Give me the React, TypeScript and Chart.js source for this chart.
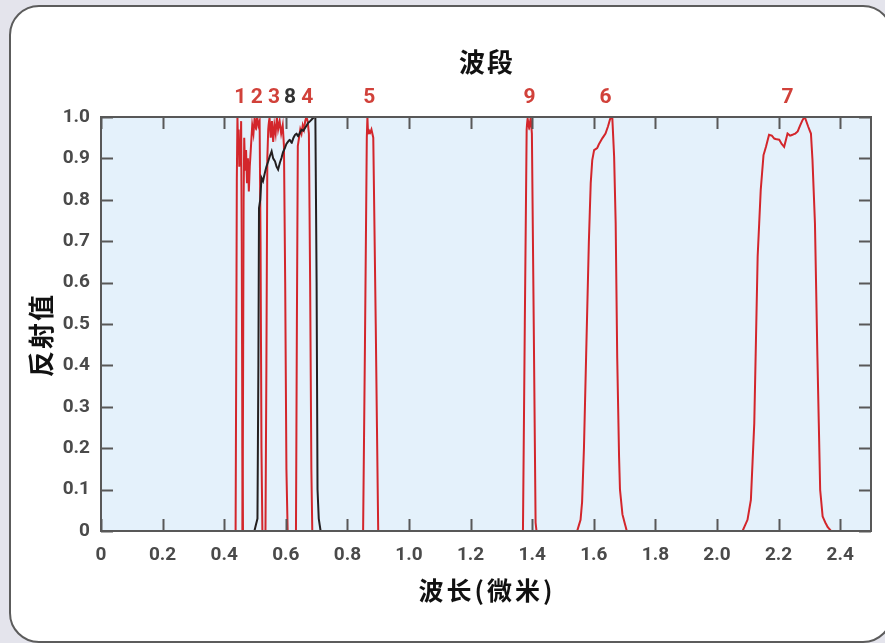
import React, { useEffect, useRef } from 'react';
import { Chart, registerables } from 'chart.js';

Chart.register(...registerables);

// Spectral response curves: [wavelength (µm), reflectance]
const band1: number[][] = [
  [0.437, 0], [0.439, 0.4], [0.441, 0.85], [0.443, 1.0], [0.445, 0.93], [0.447, 0.97],
  [0.449, 0.88], [0.451, 0.94], [0.453, 0.9], [0.455, 0.99], [0.457, 0.7], [0.459, 0.2], [0.461, 0],
];
const band2: number[][] = [
  [0.459, 0], [0.461, 0.3], [0.463, 0.8], [0.465, 0.95], [0.468, 0.87], [0.471, 0.92],
  [0.474, 0.84], [0.477, 0.9], [0.480, 0.82], [0.483, 0.88], [0.487, 0.93], [0.491, 0.98],
  [0.495, 0.96], [0.499, 1.0], [0.503, 0.97], [0.507, 1.0], [0.511, 0.98], [0.515, 0.99],
  [0.518, 0.7], [0.521, 0.2], [0.524, 0],
];
const band3: number[][] = [
  [0.534, 0], [0.537, 0.4], [0.540, 0.9], [0.543, 0.97], [0.547, 1.0], [0.551, 0.95],
  [0.555, 0.99], [0.559, 0.94], [0.563, 0.98], [0.567, 0.96], [0.571, 1.0], [0.575, 0.97],
  [0.580, 0.99], [0.585, 0.96], [0.590, 0.98], [0.594, 0.93], [0.598, 0.6], [0.602, 0.15], [0.606, 0],
];
const band4: number[][] = [
  [0.633, 0], [0.636, 0.5], [0.639, 0.93], [0.643, 0.95], [0.647, 0.97], [0.651, 0.96],
  [0.655, 0.98], [0.659, 0.97], [0.663, 0.99], [0.667, 1.0], [0.671, 0.99], [0.675, 0.96],
  [0.679, 0.6], [0.683, 0.15], [0.686, 0],
];
const band8: number[][] = [
  [0.498, 0], [0.503, 0.015], [0.508, 0.03], [0.511, 0.4], [0.513, 0.78], [0.517, 0.80],
  [0.521, 0.853], [0.526, 0.845], [0.532, 0.865], [0.537, 0.88], [0.543, 0.893], [0.548, 0.905],
  [0.554, 0.917], [0.559, 0.90], [0.565, 0.893], [0.570, 0.88], [0.575, 0.873], [0.581, 0.89],
  [0.586, 0.901], [0.591, 0.915], [0.597, 0.925], [0.602, 0.935], [0.608, 0.941], [0.613, 0.945],
  [0.619, 0.937], [0.625, 0.95], [0.630, 0.957], [0.635, 0.96], [0.640, 0.953], [0.646, 0.962],
  [0.651, 0.969], [0.657, 0.967], [0.662, 0.973], [0.668, 0.98], [0.673, 0.986], [0.679, 0.99],
  [0.684, 0.994], [0.692, 1.0], [0.696, 1.0], [0.700, 0.6], [0.703, 0.1], [0.707, 0.03], [0.713, 0],
];
const band5: number[][] = [
  [0.851, 0], [0.857, 0.45], [0.863, 0.95], [0.865, 1.0], [0.867, 0.96], [0.869, 0.97],
  [0.873, 0.96], [0.878, 0.97], [0.884, 0.95], [0.892, 0.5], [0.900, 0],
];
const band9: number[][] = [
  [1.370, 0], [1.376, 0.5], [1.382, 0.97], [1.385, 1.0], [1.390, 0.97], [1.395, 1.0],
  [1.399, 0.96], [1.405, 0.5], [1.411, 0.02], [1.414, 0],
];
const band6: number[][] = [
  [1.546, 0], [1.557, 0.027], [1.562, 0.07], [1.568, 0.2], [1.575, 0.42], [1.584, 0.7],
  [1.590, 0.84], [1.595, 0.896], [1.601, 0.92], [1.611, 0.925], [1.617, 0.935], [1.628, 0.949],
  [1.638, 0.96], [1.646, 0.977], [1.653, 0.995], [1.658, 1.0], [1.660, 1.0], [1.666, 0.904],
  [1.671, 0.744], [1.676, 0.42], [1.682, 0.18], [1.685, 0.1], [1.693, 0.04], [1.700, 0.02], [1.707, 0],
];
const band7: number[][] = [
  [2.083, 0], [2.099, 0.027], [2.110, 0.075], [2.121, 0.26], [2.132, 0.663], [2.142, 0.824],
  [2.151, 0.908], [2.159, 0.928], [2.169, 0.957], [2.178, 0.955], [2.186, 0.948], [2.194, 0.946],
  [2.202, 0.945], [2.210, 0.935], [2.218, 0.928], [2.229, 0.96], [2.237, 0.955], [2.245, 0.957],
  [2.254, 0.96], [2.262, 0.965], [2.270, 0.98], [2.278, 0.993], [2.285, 1.0], [2.296, 0.977],
  [2.305, 0.96], [2.310, 0.896], [2.318, 0.744], [2.326, 0.421], [2.335, 0.099], [2.343, 0.035],
  [2.352, 0.02], [2.359, 0.01], [2.370, 0],
];

const xTicks = [0, 0.2, 0.4, 0.6, 0.8, 1.0, 1.2, 1.4, 1.6, 1.8, 2.0, 2.2, 2.4];
const yTicks = [0, 0.1, 0.2, 0.3, 0.4, 0.5, 0.6, 0.7, 0.8, 0.9, 1.0];

const bandLabels = ['1', '2', '3', '8', '4', '5', '9', '6', '7'];
const bandLabelPos = [0.452, 0.506, 0.562, 0.614, 0.670, 0.871, 1.391, 1.638, 2.229];

const topTitle = '波段';
const xTitle = '波长(微米)';
const yTitle = '反射值';

const RED = '#d3262b';
const DARK = '#231f20';
const AXIS = '#585858';
const LABEL_RED = '#d1413a';
const NUM_FONT = 'Roboto, "Liberation Sans", sans-serif';
const CJK_FONT = '"Noto Sans CJK SC", "Noto Sans", sans-serif';

const fmt = (v: number) => (Math.abs(v) < 1e-9 ? '0' : v.toFixed(1));

const decorPlugin = {
  id: 'decor',
  beforeDatasetsDraw(chart: any) {
    const { ctx, chartArea: a } = chart;
    ctx.save();
    ctx.fillStyle = '#e4f1fb';
    ctx.fillRect(a.left, a.top, a.right - a.left, a.bottom - a.top);
    ctx.restore();
  },
  afterDatasetsDraw(chart: any) {
    const { ctx, chartArea: a, scales } = chart;
    const xs = scales.x;
    const ys = scales.y;
    ctx.save();
    // inward ticks
    ctx.strokeStyle = AXIS;
    ctx.lineWidth = 2;
    const tl = 12;
    ctx.beginPath();
    xTicks.forEach((v) => {
      const px = Math.round(xs.getPixelForValue(v)) + 0.5;
      ctx.moveTo(px, a.bottom);
      ctx.lineTo(px, a.bottom - tl);
      ctx.moveTo(px, a.top);
      ctx.lineTo(px, a.top + tl);
    });
    yTicks.forEach((v) => {
      const py = Math.round(ys.getPixelForValue(v)) + 0.5;
      ctx.moveTo(a.left, py);
      ctx.lineTo(a.left + tl, py);
      ctx.moveTo(a.right, py);
      ctx.lineTo(a.right - tl, py);
    });
    ctx.stroke();
    // frame
    ctx.strokeRect(a.left, a.top, a.right - a.left, a.bottom - a.top);

    // band labels
    ctx.font = `bold 21px ${NUM_FONT}`;
    ctx.textAlign = 'center';
    ctx.textBaseline = 'middle';
    bandLabels.forEach((t, i) => {
      ctx.fillStyle = t === '8' ? '#333333' : LABEL_RED;
      ctx.fillText(t, xs.getPixelForValue(bandLabelPos[i]), a.top - 19);
    });

    // titles
    const cx = (a.left + a.right) / 2;
    ctx.fillStyle = '#111111';
    (ctx as any).letterSpacing = '2px';
    ctx.font = `bold 26px ${CJK_FONT}`;
    ctx.fillText(topTitle, cx + 1, a.top - 55);
    (ctx as any).letterSpacing = '3px';
    ctx.font = `bold 25px ${CJK_FONT}`;
    ctx.fillText(xTitle, cx + 1, a.bottom + 59);
    (ctx as any).letterSpacing = '2px';
    ctx.translate(a.left - 60, (a.top + a.bottom) / 2 + 11);
    ctx.rotate(-Math.PI / 2);
    ctx.font = `bold 26px ${CJK_FONT}`;
    ctx.fillText(yTitle, 0, 0);
    ctx.restore();
  },
};

export default function App() {
  const ref = useRef<HTMLCanvasElement | null>(null);

  useEffect(() => {
    if (!ref.current) return;
    const mk = (d: number[][], color: string) => ({
      data: d.map(([x, y]) => ({ x, y })),
      borderColor: color,
      backgroundColor: color,
      borderWidth: 2,
      pointRadius: 0,
      tension: 0.0001,
      fill: false,
    });
    const chart = new Chart(ref.current, {
      type: 'line',
      data: {
        datasets: [
          mk(band8, DARK),
          mk(band1, RED),
          mk(band2, RED),
          mk(band3, RED),
          mk(band4, RED),
          mk(band5, RED),
          mk(band9, RED),
          mk(band6, RED),
          mk(band7, RED),
        ],
      },
      options: {
        animation: false,
        responsive: false,
        maintainAspectRatio: false,
        layout: { padding: { top: 117, right: 14, left: 0, bottom: 0 } },
        plugins: { legend: { display: false }, tooltip: { enabled: false }, title: { display: false } },
        scales: {
          x: {
            type: 'linear',
            min: 0,
            max: 2.5,
            grid: { display: false, drawTicks: false },
            border: { display: false },
            afterBuildTicks: (s: any) => { s.ticks = xTicks.map((v) => ({ value: v })); },
            afterFit: (s: any) => { s.height = 112; },
            ticks: {
              padding: 13,
              color: '#4a4a4a',
              font: { family: NUM_FONT, size: 19, weight: 'bold' },
              maxRotation: 0,
              autoSkip: false,
              callback: (v: any) => fmt(Number(v)),
            },
          },
          y: {
            type: 'linear',
            min: 0,
            max: 1,
            grid: { display: false, drawTicks: false },
            border: { display: false },
            afterBuildTicks: (s: any) => { s.ticks = yTicks.map((v) => ({ value: v })); },
            afterFit: (s: any) => { s.width = 101; },
            ticks: {
              padding: 11,
              color: '#4a4a4a',
              font: { family: NUM_FONT, size: 19, weight: 'bold' },
              autoSkip: false,
              callback: (v: any) => fmt(Number(v)),
            },
          },
        },
      },
      plugins: [decorPlugin],
    } as any);
    return () => chart.destroy();
  }, []);

  return (
    <div style={{ position: 'absolute', left: 0, top: 0, width: 885, height: 643, overflow: 'hidden', background: '#e4e4ec' }}>
      <div
        style={{
          position: 'absolute', left: 9, top: 5, width: 880, height: 634,
          border: '2px solid #5c5c5c', borderRadius: 30, background: '#ffffff',
        }}
      />
      <canvas ref={ref} width={885} height={643} style={{ position: 'absolute', left: 0, top: 0, width: 885, height: 643 }} />
    </div>
  );
}
